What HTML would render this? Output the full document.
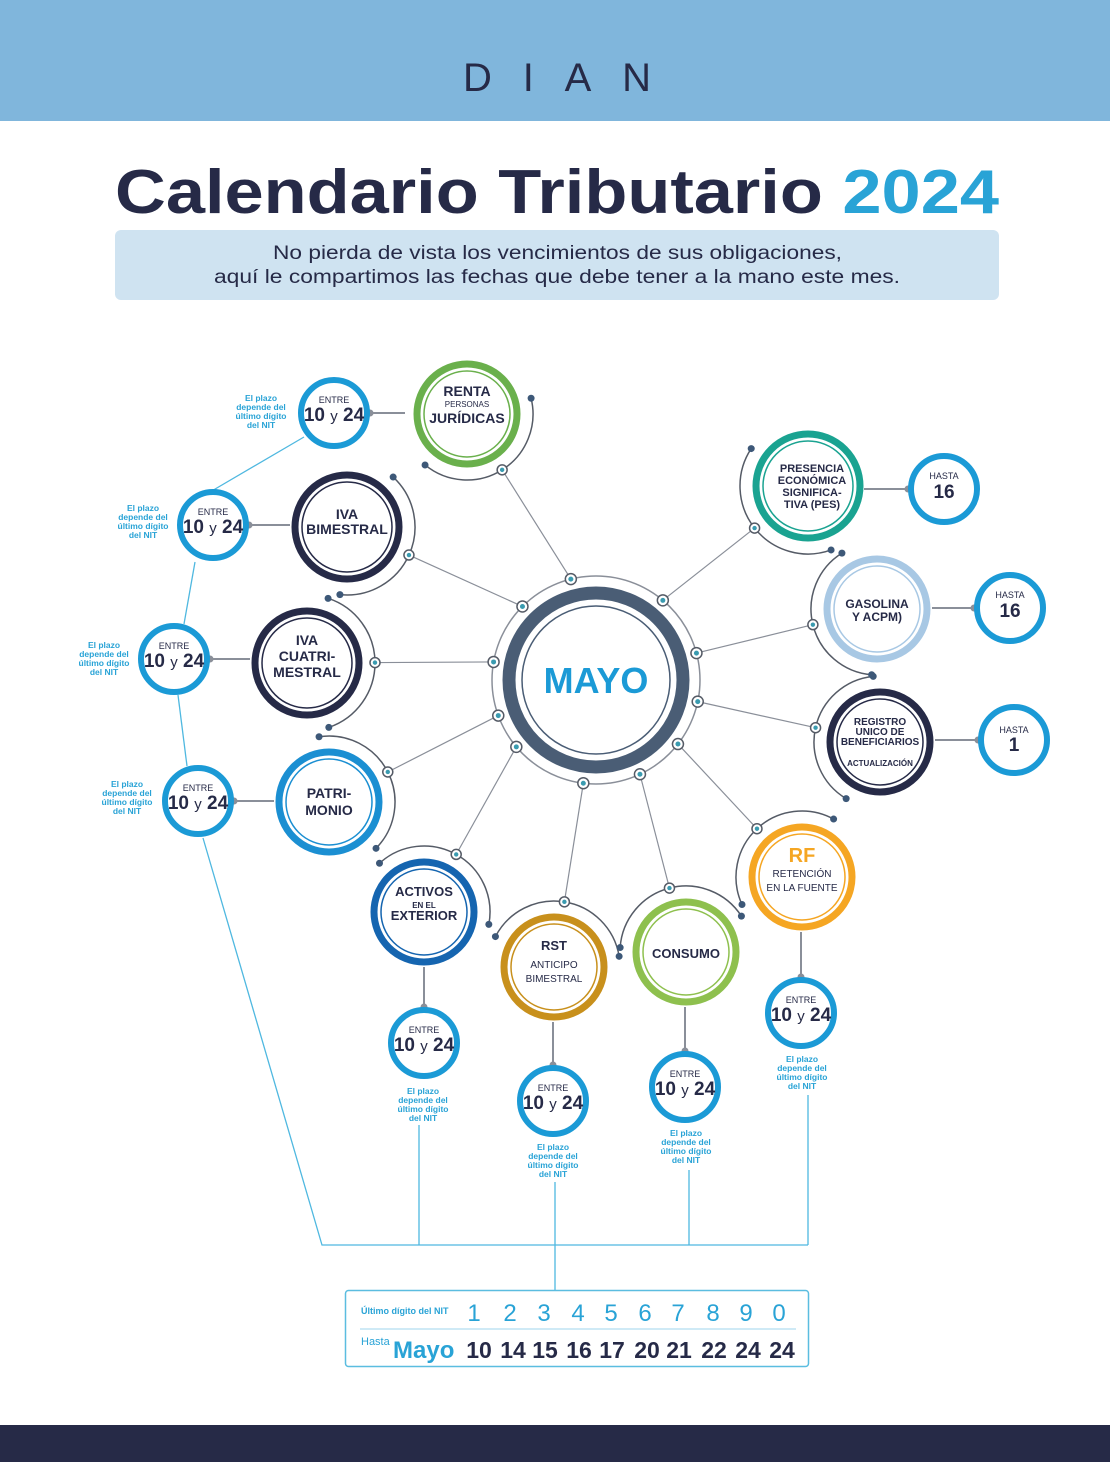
<!DOCTYPE html>
<html><head><meta charset="utf-8"><style>
body{margin:0;width:1110px;height:1462px;background:#fff;overflow:hidden;font-family:"Liberation Sans",sans-serif}
svg{display:block}
</style></head><body>
<svg id="s" width="1110" height="1462" viewBox="0 0 1110 1462" font-family="Liberation Sans, sans-serif">
<rect x="0" y="0" width="1110" height="121" fill="#80b6dc"/>
<text x="463" y="91" font-size="40" fill="#262a47" textLength="188" lengthAdjust="spacing">DIAN</text>
<text x="115" y="213" font-size="62" font-weight="bold" fill="#262a47" textLength="884" lengthAdjust="spacingAndGlyphs">Calendario Tributario <tspan fill="#29a3d6">2024</tspan></text>
<rect x="115" y="230" width="884" height="70" rx="6" fill="#cfe3f1"/>
<text x="273" y="259" font-size="19" fill="#262a47" textLength="569" lengthAdjust="spacingAndGlyphs">No pierda de vista los vencimientos de sus obligaciones,</text>
<text x="214" y="283" font-size="19" fill="#262a47" textLength="686" lengthAdjust="spacingAndGlyphs">aquí le compartimos las fechas que debe tener a la mano este mes.</text>
<rect x="0" y="1425" width="1110" height="37" fill="#262a47"/>

<g id="lines" stroke="#8a8f99" stroke-width="1.2" fill="none"></g>
<g stroke="#4fb8e0" stroke-width="1.3" fill="none">
<polyline points="304,437 210,492"/><polyline points="195,562 184,624"/><polyline points="178,695 187,766"/>
<polyline points="203,838 322,1245 808,1245"/>
<line x1="419" y1="1125" x2="419" y2="1245"/><line x1="555" y1="1182" x2="555" y2="1290"/>
<line x1="689" y1="1170" x2="689" y2="1245"/><line x1="808" y1="1095" x2="808" y2="1245"/>
</g>
<g id="nodes"></g>

<circle cx="596" cy="680" r="104" fill="none" stroke="#8a8f99" stroke-width="1.5"/>
<circle cx="596" cy="680" r="87" fill="#fff" stroke="#4a5d75" stroke-width="13"/>
<circle cx="596" cy="680" r="74" fill="none" stroke="#4a5d75" stroke-width="1.5"/>
<text x="596" y="693" text-anchor="middle" font-size="36" font-weight="bold" fill="#1b9ad6">MAYO</text>
<g id="cdots"></g>

<g font-weight="bold" fill="#262a47" text-anchor="middle">
<text x="467" y="396" font-size="14">RENTA</text><text x="467" y="407" font-size="8" font-weight="normal">PERSONAS</text><text x="467" y="423" font-size="14">JURÍDICAS</text>
<text x="347" y="519" font-size="14">IVA</text><text x="347" y="534" font-size="14">BIMESTRAL</text>
<text x="307" y="645" font-size="14">IVA</text><text x="307" y="661" font-size="14">CUATRI-</text><text x="307" y="677" font-size="14">MESTRAL</text>
<text x="329" y="798" font-size="14">PATRI-</text><text x="329" y="815" font-size="14">MONIO</text>
<text x="424" y="896" font-size="13">ACTIVOS</text><text x="424" y="908" font-size="8">EN EL</text><text x="424" y="920" font-size="13">EXTERIOR</text>
<text x="554" y="950" font-size="13">RST</text><text x="554" y="968" font-size="10" font-weight="normal">ANTICIPO</text><text x="554" y="982" font-size="10" font-weight="normal">BIMESTRAL</text>
<text x="686" y="958" font-size="13">CONSUMO</text>
<text x="802" y="862" font-size="20" fill="#f5a623">RF</text><text x="802" y="877" font-size="10" font-weight="normal">RETENCIÓN</text><text x="802" y="891" font-size="10" font-weight="normal">EN LA FUENTE</text>
<text x="880" y="725" font-size="10">REGISTRO</text><text x="880" y="735" font-size="10">UNICO DE</text><text x="880" y="745" font-size="10">BENEFICIARIOS</text><text x="880" y="766" font-size="8">ACTUALIZACIÓN</text>
<text x="877" y="608" font-size="12">GASOLINA</text><text x="877" y="621" font-size="12">Y ACPM)</text>
<text x="812" y="472" font-size="11">PRESENCIA</text><text x="812" y="484" font-size="11">ECONÓMICA</text><text x="812" y="496" font-size="11">SIGNIFICA-</text><text x="812" y="508" font-size="11">TIVA (PES)</text>
</g>
<g font-weight="bold" fill="#262a47" text-anchor="middle">
<g transform="translate(334,413)"><text y="-10" font-size="9" font-weight="normal">ENTRE</text><text y="8" font-size="19">10 <tspan font-size="15" font-weight="normal">y</tspan> 24</text></g>
<g transform="translate(213,525)"><text y="-10" font-size="9" font-weight="normal">ENTRE</text><text y="8" font-size="19">10 <tspan font-size="15" font-weight="normal">y</tspan> 24</text></g>
<g transform="translate(174,659)"><text y="-10" font-size="9" font-weight="normal">ENTRE</text><text y="8" font-size="19">10 <tspan font-size="15" font-weight="normal">y</tspan> 24</text></g>
<g transform="translate(198,801)"><text y="-10" font-size="9" font-weight="normal">ENTRE</text><text y="8" font-size="19">10 <tspan font-size="15" font-weight="normal">y</tspan> 24</text></g>
<g transform="translate(424,1043)"><text y="-10" font-size="9" font-weight="normal">ENTRE</text><text y="8" font-size="19">10 <tspan font-size="15" font-weight="normal">y</tspan> 24</text></g>
<g transform="translate(553,1101)"><text y="-10" font-size="9" font-weight="normal">ENTRE</text><text y="8" font-size="19">10 <tspan font-size="15" font-weight="normal">y</tspan> 24</text></g>
<g transform="translate(685,1087)"><text y="-10" font-size="9" font-weight="normal">ENTRE</text><text y="8" font-size="19">10 <tspan font-size="15" font-weight="normal">y</tspan> 24</text></g>
<g transform="translate(801,1013)"><text y="-10" font-size="9" font-weight="normal">ENTRE</text><text y="8" font-size="19">10 <tspan font-size="15" font-weight="normal">y</tspan> 24</text></g>
<g transform="translate(944,489)"><text y="-10" font-size="9" font-weight="normal">HASTA</text><text y="9" font-size="19">16</text></g>
<g transform="translate(1010,608)"><text y="-10" font-size="9" font-weight="normal">HASTA</text><text y="9" font-size="19">16</text></g>
<g transform="translate(1014,740)"><text y="-7" font-size="9" font-weight="normal">HASTA</text><text y="11" font-size="19">1</text></g>
</g>
<g font-size="8.5" font-weight="bold" fill="#29a3d6" text-anchor="middle">
<text x="261" y="401">El plazo</text><text x="261" y="410">depende del</text><text x="261" y="419">último dígito</text><text x="261" y="428">del NIT</text>
<text x="143" y="511">El plazo</text><text x="143" y="520">depende del</text><text x="143" y="529">último dígito</text><text x="143" y="538">del NIT</text>
<text x="104" y="648">El plazo</text><text x="104" y="657">depende del</text><text x="104" y="666">último dígito</text><text x="104" y="675">del NIT</text>
<text x="127" y="787">El plazo</text><text x="127" y="796">depende del</text><text x="127" y="805">último dígito</text><text x="127" y="814">del NIT</text>
<text x="423" y="1094">El plazo</text><text x="423" y="1103">depende del</text><text x="423" y="1112">último dígito</text><text x="423" y="1121">del NIT</text>
<text x="553" y="1150">El plazo</text><text x="553" y="1159">depende del</text><text x="553" y="1168">último dígito</text><text x="553" y="1177">del NIT</text>
<text x="686" y="1136">El plazo</text><text x="686" y="1145">depende del</text><text x="686" y="1154">último dígito</text><text x="686" y="1163">del NIT</text>
<text x="802" y="1062">El plazo</text><text x="802" y="1071">depende del</text><text x="802" y="1080">último dígito</text><text x="802" y="1089">del NIT</text>
</g>

<rect x="345.5" y="1290.5" width="463" height="76" rx="3" fill="#fff" stroke="#5bbde0" stroke-width="1.5"/>
<line x1="360" y1="1329" x2="796" y2="1329" stroke="#9fd4ec" stroke-width="1"/>
<text x="361" y="1314" font-size="9" font-weight="bold" fill="#29a3d6">Último dígito del NIT</text>
<g font-size="24" fill="#29a3d6" text-anchor="middle">
<text x="474" y="1321">1</text><text x="510" y="1321">2</text><text x="544" y="1321">3</text><text x="578" y="1321">4</text><text x="611" y="1321">5</text><text x="645" y="1321">6</text><text x="678" y="1321">7</text><text x="713" y="1321">8</text><text x="746" y="1321">9</text><text x="779" y="1321">0</text>
</g>
<text x="361" y="1345" font-size="11" fill="#29a3d6">Hasta</text>
<text x="393" y="1358" font-size="24" font-weight="bold" fill="#29a3d6">Mayo</text>
<g font-size="23" font-weight="bold" fill="#262a47" text-anchor="middle">
<text x="479" y="1358">10</text><text x="513" y="1358">14</text><text x="545" y="1358">15</text><text x="579" y="1358">16</text><text x="612" y="1358">17</text><text x="647" y="1358">20</text><text x="679" y="1358">21</text><text x="714" y="1358">22</text><text x="748" y="1358">24</text><text x="782" y="1358">24</text>
</g>
</svg>
<script>
var NS="http://www.w3.org/2000/svg";
function el(p,t,a){var e=document.createElementNS(NS,t);for(var k in a)e.setAttribute(k,a[k]);p.appendChild(e);return e;}
var nodes=document.getElementById('nodes'),lines=document.getElementById('lines'),cd=document.getElementById('cdots');
var N=[[467,414,53,'#6ab04c',-104],[347,527,55,'#262a47',-135],[307,663,55,'#262a47',-170],[329,802,53,'#1b8fd2',160],
[424,912,53,'#1565b0',140],[554,967,53,'#c8901c',97],[686,952,53,'#8ec04e',65],[802,877,53,'#f5a623',38],
[880,742,53,'#262a47',12],[877,609,53,'#a8c8e4',-15],[808,486,55,'#1aa391',-50]];
N.forEach(function(n){
 var cx=n[0],cy=n[1],r=n[2];
 var a0=n[4]*Math.PI/180, px=596+104*Math.cos(a0), py=680+104*Math.sin(a0);
 var ang=Math.atan2(py-cy,px-cx), R=r+13;
 var dx=cx+R*Math.cos(ang), dy=cy+R*Math.sin(ang);
 el(lines,'line',{x1:px,y1:py,x2:dx,y2:dy});
 var s=1.25,a1=ang-s,a2=ang+s;
 el(nodes,'path',{d:'M'+(cx+R*Math.cos(a1))+' '+(cy+R*Math.sin(a1))+' A'+R+' '+R+' 0 0 1 '+(cx+R*Math.cos(a2))+' '+(cy+R*Math.sin(a2)),fill:'none',stroke:'#555b66','stroke-width':1.5});
 el(nodes,'circle',{cx:cx+R*Math.cos(a1),cy:cy+R*Math.sin(a1),r:3.5,fill:'#3d5878'});
 el(nodes,'circle',{cx:cx+R*Math.cos(a2),cy:cy+R*Math.sin(a2),r:3.5,fill:'#3d5878'});
 el(nodes,'circle',{cx:dx,cy:dy,r:5,fill:'#fff',stroke:'#555b66','stroke-width':1.5});
 el(nodes,'circle',{cx:dx,cy:dy,r:2.2,fill:'#3a9bb0'});
 el(cd,'circle',{cx:px,cy:py,r:5.5,fill:'#fff',stroke:'#555b66','stroke-width':1.5});
 el(cd,'circle',{cx:px,cy:py,r:2.5,fill:'#3a9bb0'});
 el(nodes,'circle',{cx:cx,cy:cy,r:r-3,fill:'#fff',stroke:n[3],'stroke-width':7});
 el(nodes,'circle',{cx:cx,cy:cy,r:r-10,fill:'none',stroke:n[3],'stroke-width':1.5});
});
var S=[[334,413,'h',405],[213,525,'h',290],[174,659,'h',250],[198,801,'h',274],[424,1043,'v',967],[553,1101,'v',1022],[685,1087,'v',1007],[801,1013,'v',932],[944,489,'h',864],[1010,608,'h',932],[1014,740,'h',935]];
S.forEach(function(c){
 var x=c[0],y=c[1],sx,sy;
 if(c[2]=='h'){var side=c[3]>x?1:-1;sx=x+side*36;el(nodes,'line',{x1:sx,y1:y,x2:c[3],y2:y,stroke:'#8a8f99','stroke-width':2});el(nodes,'circle',{cx:sx,cy:y,r:3.5,fill:'#8a8f99'});}
 else{sy=y-36;el(nodes,'line',{x1:x,y1:sy,x2:x,y2:c[3],stroke:'#8a8f99','stroke-width':2});el(nodes,'circle',{cx:x,cy:sy,r:3.5,fill:'#8a8f99'});}
 el(nodes,'circle',{cx:x,cy:y,r:33,fill:'#fff',stroke:'#1b9ad6','stroke-width':6});
});
</script>
</body></html>
